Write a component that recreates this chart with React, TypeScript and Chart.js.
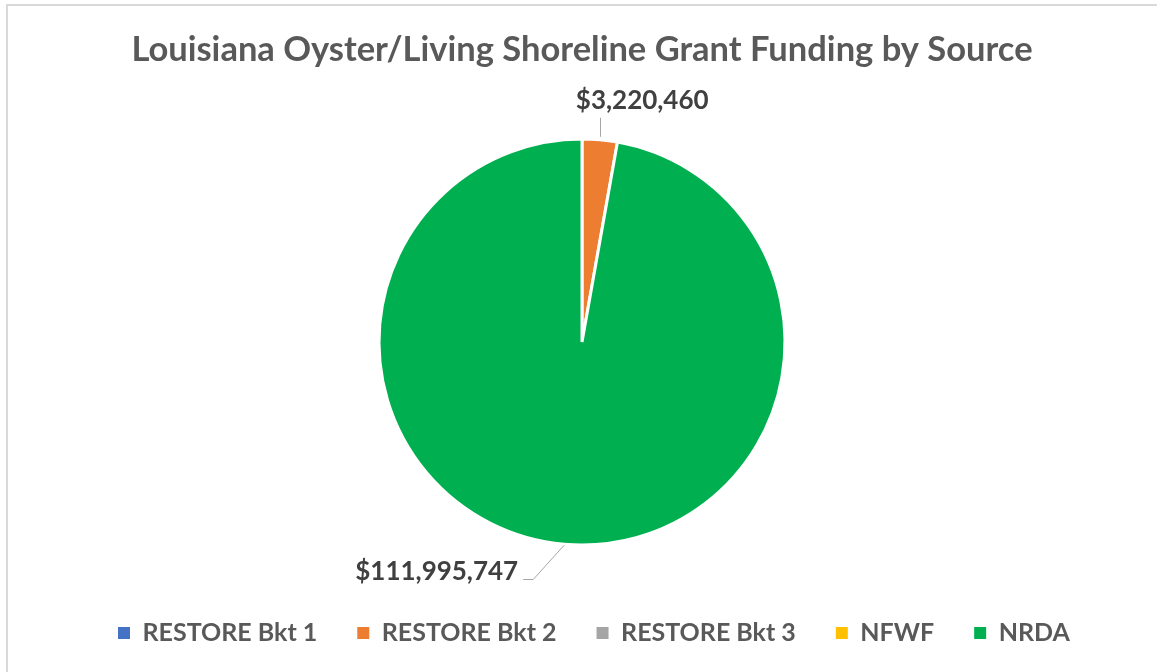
import React, { useEffect, useRef } from "react";
import { Chart, registerables } from "chart.js";

Chart.register(...registerables);

const TITLE = "Louisiana Oyster/Living Shoreline Grant Funding by Source";
const categories = ["RESTORE Bkt 1", "RESTORE Bkt 2", "RESTORE Bkt 3", "NFWF", "NRDA"];
const fundingValues = [0, 3220460, 0, 0, 111995747];
const sliceColors = ["#4472C4", "#ED7D31", "#A5A5A5", "#FFC000", "#00B050"];

const FONT = "Lato, 'Open Sans', sans-serif";
const W = 1157;
const H = 672;
const LEGEND_START_X = 118;

function fitSize(text: string, target: number): number {
  const c = document.createElement("canvas").getContext("2d")!;
  c.font = `bold 100px ${FONT}`;
  const w = c.measureText(text).width;
  return Math.round(((100 * target) / w) * 2) / 2;
}

const money = (v: number) => "$" + v.toLocaleString("en-US");

const sliceLabelPlugin = {
  id: "sliceLabels",
  afterLayout(chart: any) {
    const lg = chart.legend;
    if (!lg) return;
    const pad = lg.options.labels.padding;
    const shift = LEGEND_START_X - (lg.left + pad);
    lg.left += shift;
    lg.right += shift;
  },
  afterDatasetsDraw(chart: any, _args: any, opts: any) {
    const ctx = chart.ctx as CanvasRenderingContext2D;
    const meta = chart.getDatasetMeta(0);
    const data = chart.data.datasets[0].data as number[];
    ctx.save();
    ctx.font = `bold ${opts.size}px ${FONT}`;
    ctx.fillStyle = "#404040";
    ctx.strokeStyle = "#A6A6A6";
    ctx.lineWidth = 1;
    meta.data.forEach((arc: any, i: number) => {
      const v = data[i];
      if (!v) return;
      const { x, y, startAngle, endAngle, outerRadius } = arc.getProps(
        ["x", "y", "startAngle", "endAngle", "outerRadius"],
        true
      );
      const mid = (startAngle + endAngle) / 2;
      const cos = Math.cos(mid);
      const sin = Math.sin(mid);
      const ax = x + outerRadius * cos;
      const ay = y + outerRadius * sin;
      const text = money(v);
      ctx.beginPath();
      if (sin < -0.9) {
        const lx = Math.round(ax) + 0.5;
        ctx.moveTo(lx, ay - 3);
        ctx.lineTo(lx, ay - 22);
        ctx.stroke();
        ctx.textAlign = "left";
        ctx.textBaseline = "alphabetic";
        ctx.fillText(text, ax - 24, ay - 31);
      } else {
        const side = cos < 0 ? -1 : 1;
        const ex = ax + side * 31;
        const ey = Math.round(ay + 35) + 0.5;
        ctx.moveTo(ax, ay + 1);
        ctx.lineTo(ex, ey);
        ctx.lineTo(ex + side * 10, ey);
        ctx.stroke();
        ctx.textAlign = side < 0 ? "right" : "left";
        ctx.textBaseline = "alphabetic";
        ctx.fillText(text, ex + side * 15, ey);
      }
    });
    ctx.restore();
  },
};

export default function App() {
  const ref = useRef<HTMLCanvasElement | null>(null);

  useEffect(() => {
    document.body.style.margin = "0";
    const titleSize = fitSize(TITLE, 900);
    const legendSize = fitSize("RESTORE Bkt 1", 175);
    const labelSize = fitSize(money(111995747), 162);

    const legendPad = 40;
    const padL = 7;
    const padR = 0;
    const padB = 29 - legendSize / 2;
    const areaBottom = H - padB - (legendSize + legendPad + 10);
    const areaTop = 2 * 342 - areaBottom;
    const titleLH = 1.2;
    const titleTop = 50 - (titleLH * titleSize) / 2;
    const titleBottom = areaTop - titleTop - titleLH * titleSize;

    const baseGen = (Chart as any).overrides.doughnut.plugins.legend.labels.generateLabels;

    const chart = new Chart(ref.current!, {
      type: "pie",
      data: {
        labels: categories,
        datasets: [
          {
            data: fundingValues,
            backgroundColor: sliceColors,
            borderColor: "#FFFFFF",
            borderWidth: 3,
            radius: 203,
          } as any,
        ],
      },
      plugins: [sliceLabelPlugin],
      options: {
        responsive: false,
        animation: false,
        devicePixelRatio: 1,
        layout: { padding: { left: padL, right: padR, top: 0, bottom: padB } },
        plugins: {
          title: {
            display: true,
            text: TITLE,
            color: "#595959",
            font: { family: FONT, weight: "bold", size: titleSize, lineHeight: titleLH },
            padding: { top: titleTop, bottom: titleBottom },
          },
          legend: {
            display: true,
            position: "bottom",
            align: "start",
            labels: {
              boxWidth: 12,
              boxHeight: 12,
              padding: legendPad,
              color: "#595959",
              font: { family: FONT, weight: "bold", size: legendSize },
              generateLabels: (c: any) =>
                baseGen(c).map((l: any) => ({ ...l, lineWidth: 0, strokeStyle: l.fillStyle })),
            },
          },
          tooltip: { enabled: false },
          sliceLabels: { size: labelSize },
        } as any,
      },
    });
    return () => chart.destroy();
  }, []);

  return (
    <div style={{ position: "relative", width: W, height: H, overflow: "hidden", background: "#FFFFFF" }}>
      <canvas ref={ref} width={W} height={H} style={{ display: "block", width: W, height: H }} />
      <div
        style={{
          position: "absolute",
          left: 6,
          top: 4,
          width: W,
          height: H,
          borderTop: "2px solid #D9D9D9",
          borderLeft: "2px solid #D9D9D9",
          pointerEvents: "none",
        }}
      />
    </div>
  );
}
